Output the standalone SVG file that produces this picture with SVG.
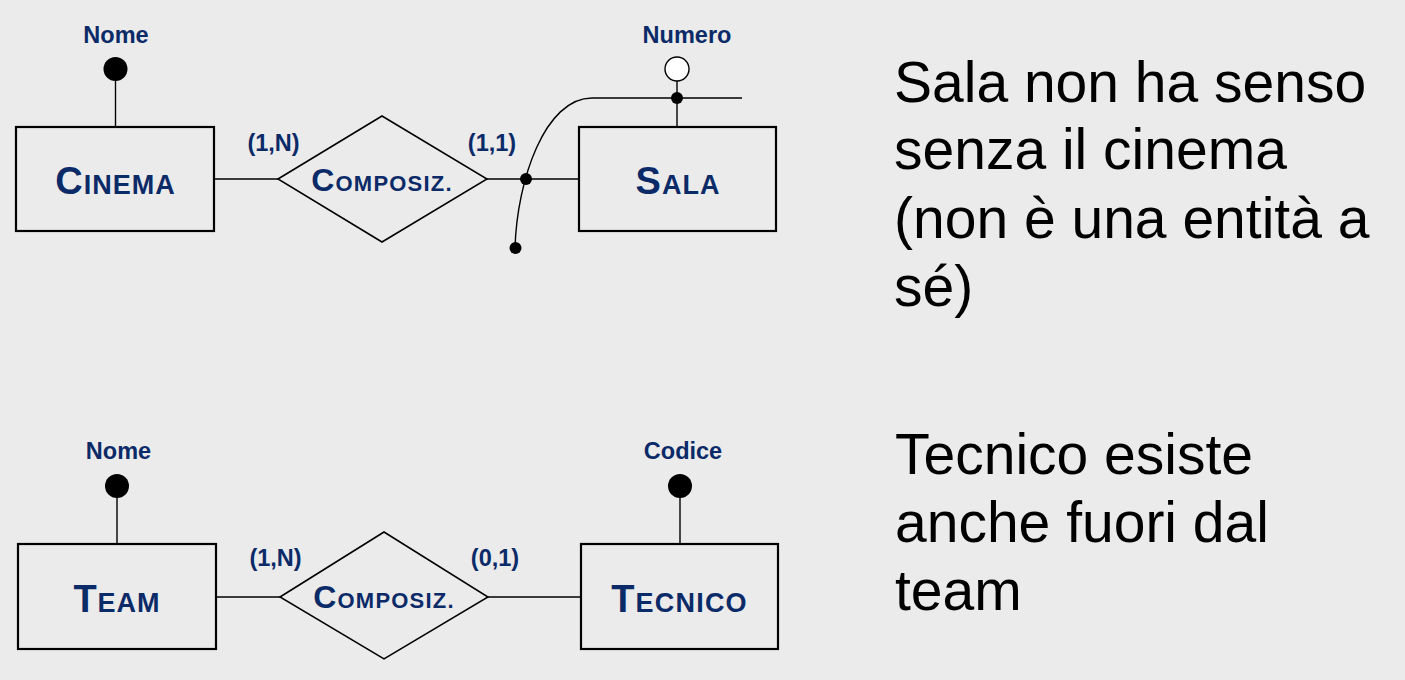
<svg xmlns="http://www.w3.org/2000/svg" width="1405" height="680" viewBox="0 0 1405 680">
<style>
.ent{fill:none;stroke:#000;stroke-width:2.2}
.rel{fill:none;stroke:#000;stroke-width:1.5}
.ln{fill:none;stroke:#000;stroke-width:1.4}
.lbl{font-family:"Liberation Sans",Arial,sans-serif;font-weight:bold;fill:#0b2a68;text-anchor:middle}
.big{font-size:38px}
.sm{font-size:27px}
.rbig{font-size:32px}
.rsm{font-size:22px}
.att{font-size:23.5px}
.card{font-size:23.5px}
.note{font-family:"Liberation Sans",Arial,sans-serif;font-size:57px;fill:#000}
.dot{fill:#000}
</style>
<rect width="1405" height="680" fill="#ebebeb"/>
<g id="connectors">
<line class="ln" x1="214" y1="179" x2="278" y2="179"/>
<line class="ln" x1="487" y1="179" x2="579" y2="179"/>
<line class="ln" x1="115.5" y1="81" x2="115.5" y2="127"/>
<line class="ln" x1="677" y1="81" x2="677" y2="127"/>
<path class="ln" d="M515,248 C517,180 545,98 592,98 L742,98"/>
<circle class="dot" cx="526" cy="179" r="6"/>
<circle class="dot" cx="677" cy="98" r="6"/>
<circle class="dot" cx="515.5" cy="248" r="6"/>
<line class="ln" x1="216" y1="597" x2="280" y2="597"/>
<line class="ln" x1="488" y1="597" x2="581" y2="597"/>
<line class="ln" x1="117" y1="498" x2="117" y2="544"/>
<line class="ln" x1="680" y1="498" x2="680" y2="544"/>
</g>
<g id="cinema">
<rect class="ent" x="16" y="127" width="198" height="104"/>
<text class="lbl" x="115.5" y="194" letter-spacing="1"><tspan class="big">C</tspan><tspan class="sm">INEMA</tspan></text>
</g>
<g id="cinema-nome">
<circle class="dot" cx="115.5" cy="69" r="12"/>
<text class="lbl att" x="116" y="43">Nome</text>
</g>
<g id="composiz1">
<polygon class="rel" points="278,179 382,116 487,179 382,242"/>
<text class="lbl" x="382" y="191" letter-spacing="1.2"><tspan class="rbig">C</tspan><tspan class="rsm">OMPOSIZ.</tspan></text>
</g>
<text class="lbl card" x="273.5" y="151">(1,N)</text>
<text class="lbl card" x="492" y="151">(1,1)</text>
<g id="sala">
<rect class="ent" x="579" y="127" width="197" height="104"/>
<text class="lbl" x="678" y="194" letter-spacing="1"><tspan class="big">S</tspan><tspan class="sm">ALA</tspan></text>
</g>
<g id="sala-numero">
<circle cx="677" cy="69" r="12" fill="#fff" stroke="#000" stroke-width="1.4"/>
<text class="lbl att" x="687" y="43">Numero</text>
</g>
<g id="team">
<rect class="ent" x="18" y="544" width="198" height="105"/>
<text class="lbl" x="117" y="611.5" letter-spacing="1"><tspan class="big">T</tspan><tspan class="sm">EAM</tspan></text>
</g>
<g id="team-nome">
<circle class="dot" cx="117" cy="486" r="12"/>
<text class="lbl att" x="118.5" y="459">Nome</text>
</g>
<g id="composiz2">
<polygon class="rel" points="280,597 384,532 488,597 384,659"/>
<text class="lbl" x="384" y="608" letter-spacing="1.2"><tspan class="rbig">C</tspan><tspan class="rsm">OMPOSIZ.</tspan></text>
</g>
<text class="lbl card" x="275.5" y="566">(1,N)</text>
<text class="lbl card" x="495" y="566">(0,1)</text>
<g id="tecnico">
<rect class="ent" x="581" y="544" width="197" height="105"/>
<text class="lbl" x="679.5" y="611.5" letter-spacing="1.2"><tspan class="big">T</tspan><tspan class="sm">ECNICO</tspan></text>
</g>
<g id="tecnico-codice">
<circle class="dot" cx="680" cy="486" r="12"/>
<text class="lbl att" x="683" y="459">Codice</text>
</g>
<g id="note1">
<text class="note" x="894" y="102">Sala non ha senso</text>
<text class="note" x="894" y="169">senza il cinema</text>
<text class="note" x="894" y="238">(non è una entità a</text>
<text class="note" x="894" y="306">sé)</text>
</g>
<g id="note2">
<text class="note" x="895" y="474">Tecnico esiste</text>
<text class="note" x="895" y="542">anche fuori dal</text>
<text class="note" x="895" y="610">team</text>
</g>
</svg>
